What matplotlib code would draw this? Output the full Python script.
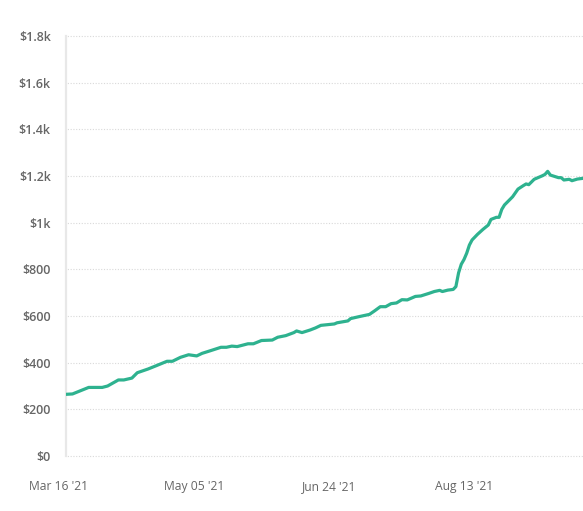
import matplotlib
matplotlib.use('Agg')
import matplotlib.pyplot as plt
import pandas as pd
from matplotlib.patches import Rectangle

# Data
dates = ['2021-03-18', '2021-03-21', '2021-03-24', '2021-03-27', '2021-04-01', '2021-04-03',
         '2021-04-07', '2021-04-09', '2021-04-12', '2021-04-14', '2021-04-18', '2021-04-21',
         '2021-04-25', '2021-04-27', '2021-04-30', '2021-05-03', '2021-05-06', '2021-05-08',
         '2021-05-11', '2021-05-15', '2021-05-17', '2021-05-19', '2021-05-21', '2021-05-25',
         '2021-05-27', '2021-05-30', '2021-06-03', '2021-06-05', '2021-06-08', '2021-06-11',
         '2021-06-12', '2021-06-14', '2021-06-17', '2021-06-19', '2021-06-21', '2021-06-26',
         '2021-06-27', '2021-07-01', '2021-07-02', '2021-07-05', '2021-07-09', '2021-07-11',
         '2021-07-13', '2021-07-15', '2021-07-17', '2021-07-19', '2021-07-21', '2021-07-23',
         '2021-07-26', '2021-07-28', '2021-07-31', '2021-08-02', '2021-08-04', '2021-08-05',
         '2021-08-07', '2021-08-09', '2021-08-10', '2021-08-11', '2021-08-12', '2021-08-13',
         '2021-08-14', '2021-08-15', '2021-08-16', '2021-08-18', '2021-08-20', '2021-08-22',
         '2021-08-23', '2021-08-25', '2021-08-26', '2021-08-27', '2021-08-28', '2021-08-31',
         '2021-09-02', '2021-09-04', '2021-09-05', '2021-09-06', '2021-09-08', '2021-09-11',
         '2021-09-12', '2021-09-13', '2021-09-14', '2021-09-17', '2021-09-18', '2021-09-19',
         '2021-09-21', '2021-09-22', '2021-09-24', '2021-09-26']
values = [264, 266, 280, 294, 294, 300,
          326, 326, 334, 357, 373, 387,
          406, 406, 423, 434, 429, 440,
          451, 466, 466, 471, 469, 481,
          481, 495, 497, 509, 516, 529,
          536, 529, 540, 549, 560, 566,
          571, 579, 589, 597, 607, 623,
          640, 640, 653, 656, 670, 669,
          684, 686, 697, 705, 710, 705,
          711, 714, 726, 785, 822, 842,
          869, 904, 926, 950, 971, 990,
          1014, 1023, 1023, 1057, 1076, 1111,
          1144, 1159, 1166, 1163, 1186, 1201,
          1207, 1220, 1204, 1193, 1193, 1183,
          1186, 1180, 1187, 1190]

tick_dates = ['2021-03-16', '2021-05-05', '2021-06-24', '2021-08-13']
tick_labels = ["Mar 16 '21", "May 05 '21", "Jun 24 '21", "Aug 13 '21"]
y_ticks = [0, 200, 400, 600, 800, 1000, 1200, 1400, 1600, 1800]
y_labels = ['$0', '$200', '$400', '$600', '$800', '$1k', '$1.2k', '$1.4k', '$1.6k', '$1.8k']

plt.rcParams['font.family'] = ['Open Sans', 'DejaVu Sans']

fig = plt.figure(figsize=(5.83, 5.11), dpi=100)
ax = fig.add_axes([0.1012, 0.1076, 0.8988, 0.8219])

# first tick date lies left of where the data (and the y axis line) starts
axis_start = pd.Timestamp('2021-03-18 14:00')
start_num = matplotlib.dates.date2num(axis_start)
clip = Rectangle((start_num, -10), 400, 2000, transform=ax.transData, visible=False)
ax.add_patch(clip)

x = pd.to_datetime(dates)
line, = ax.plot(x, values, color='#2eb28f', linewidth=2.3, solid_joinstyle='round', zorder=3)
line.set_clip_path(clip)

ax.set_ylim(0, 1800)
ax.set_xlim(pd.Timestamp('2021-03-16'), pd.Timestamp('2021-09-26 02:00'))
ax.spines['left'].set_position(('data', start_num))

ax.set_yticks(y_ticks)
ax.set_yticklabels(y_labels, fontsize=9, color='#666666', fontweight='semibold')
ax.set_xticks(pd.to_datetime(tick_dates))
ax.set_xticklabels(tick_labels, fontsize=8.7, color='#666666')
ax.tick_params(axis='both', length=0)
ax.tick_params(axis='y', pad=11)
ax.tick_params(axis='x', pad=17.5)

ax.grid(axis='y', color='#d9d9d9', linestyle=(0, (1, 1.5)), linewidth=0.8)
# grid starts at the y axis line, not at the axes edge
for gl in ax.yaxis.get_gridlines():
    gl.set_clip_path(clip)

for side in ['top', 'right', 'bottom']:
    ax.spines[side].set_visible(False)
ax.spines['left'].set_color('#e8e8e8')
ax.spines['left'].set_linewidth(1.6)

fig.savefig('out.png', dpi=100)
